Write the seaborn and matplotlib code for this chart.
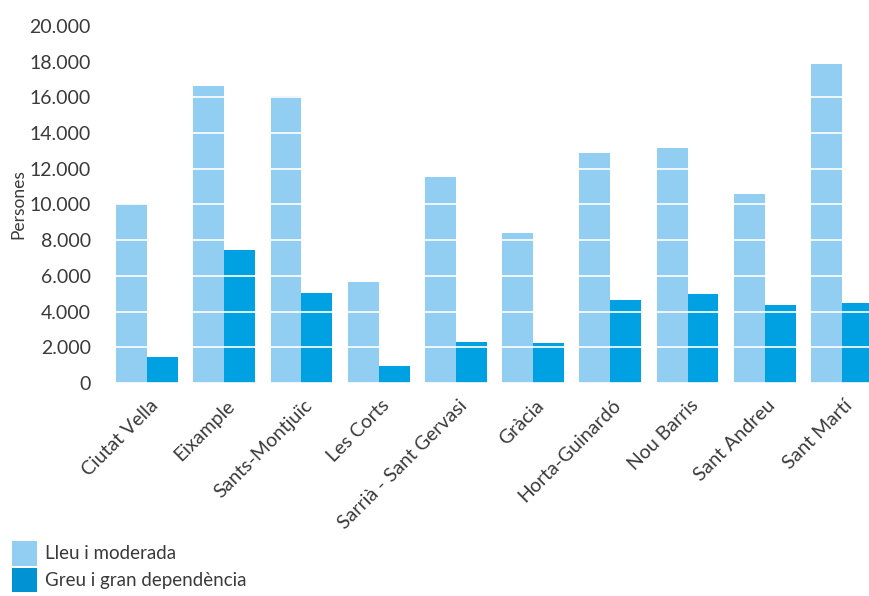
import matplotlib
matplotlib.use("Agg")
import matplotlib.pyplot as plt
import matplotlib.transforms as mtransforms
import pandas as pd
import seaborn as sns
from matplotlib.patches import Patch
from matplotlib.ticker import FuncFormatter, MultipleLocator

districtes = ["Ciutat Vella", "Eixample", "Sants-Montjuïc", "Les Corts",
              "Sarrià - Sant Gervasi", "Gràcia", "Horta-Guinardó",
              "Nou Barris", "Sant Andreu", "Sant Martí"]
lleu_moderada = [10050, 16640, 16080, 5660, 11540, 8400, 12880, 13170, 10590, 17870]
greu_gran = [1470, 7450, 5060, 950, 2280, 2240, 4650, 4990, 4370, 4480]
series = ["Lleu i moderada", "Greu i gran dependència"]
colors = ["#92CEF1", "#00A1E2"]

df = pd.DataFrame({
    "Districte": districtes * 2,
    "Grau": [series[0]] * len(districtes) + [series[1]] * len(districtes),
    "Persones": lleu_moderada + greu_gran,
})

sns.set_theme(style="white")
plt.rcParams["font.family"] = ["Lato", "DejaVu Sans"]
text_color = "#3a3a3a"

fig = plt.figure(figsize=(8.69, 5.96), dpi=100)
ax = fig.add_axes([0.1247, 0.3574, 0.8886, 0.5990])

sns.barplot(data=df, x="Districte", y="Persones", hue="Grau",
            palette=colors, width=0.8, saturation=1, ax=ax, legend=False,
            linewidth=0, edgecolor="none")

ax.set_ylim(0, 20000)
ax.set_xlim(-0.5, len(districtes) - 0.5)
ax.yaxis.set_major_locator(MultipleLocator(2000))
ax.yaxis.set_major_formatter(FuncFormatter(lambda v, p: f"{int(v):,}".replace(",", ".")))

# white rules drawn across the bars
ax.set_axisbelow(False)
ax.grid(axis="y", color="white", linewidth=1.2)
ax.grid(axis="x", visible=False)
for s in ax.spines.values():
    s.set_visible(False)

ax.tick_params(axis="y", length=0, pad=12.5, labelsize=14, labelcolor=text_color)
ax.tick_params(axis="x", length=0, pad=10, labelsize=14, labelcolor=text_color)
shift = mtransforms.ScaledTranslation(2 / 100, 0, fig.dpi_scale_trans)
for lbl in ax.get_xticklabels():
    lbl.set_rotation(45)
    lbl.set_ha("right")
    lbl.set_rotation_mode("anchor")
    lbl.set_transform(lbl.get_transform() + shift)

ax.set_xlabel("")
ax.set_ylabel("Persones", fontsize=12.5, color=text_color)
ax.yaxis.set_label_coords(-0.106, 0.5)

handles = [Patch(facecolor=c, edgecolor="none") for c in ["#92CEF1", "#0092D2"]]
fig.legend(handles, series, loc="upper left", bbox_to_anchor=(12 / 869, 1 - 541 / 596),
           frameon=False, fontsize=13.5, handlelength=1.33, handleheight=1.65,
           handletextpad=0.45, labelspacing=0.1, borderpad=0, borderaxespad=0,
           labelcolor=text_color)

fig.savefig("out.png", dpi=100)
